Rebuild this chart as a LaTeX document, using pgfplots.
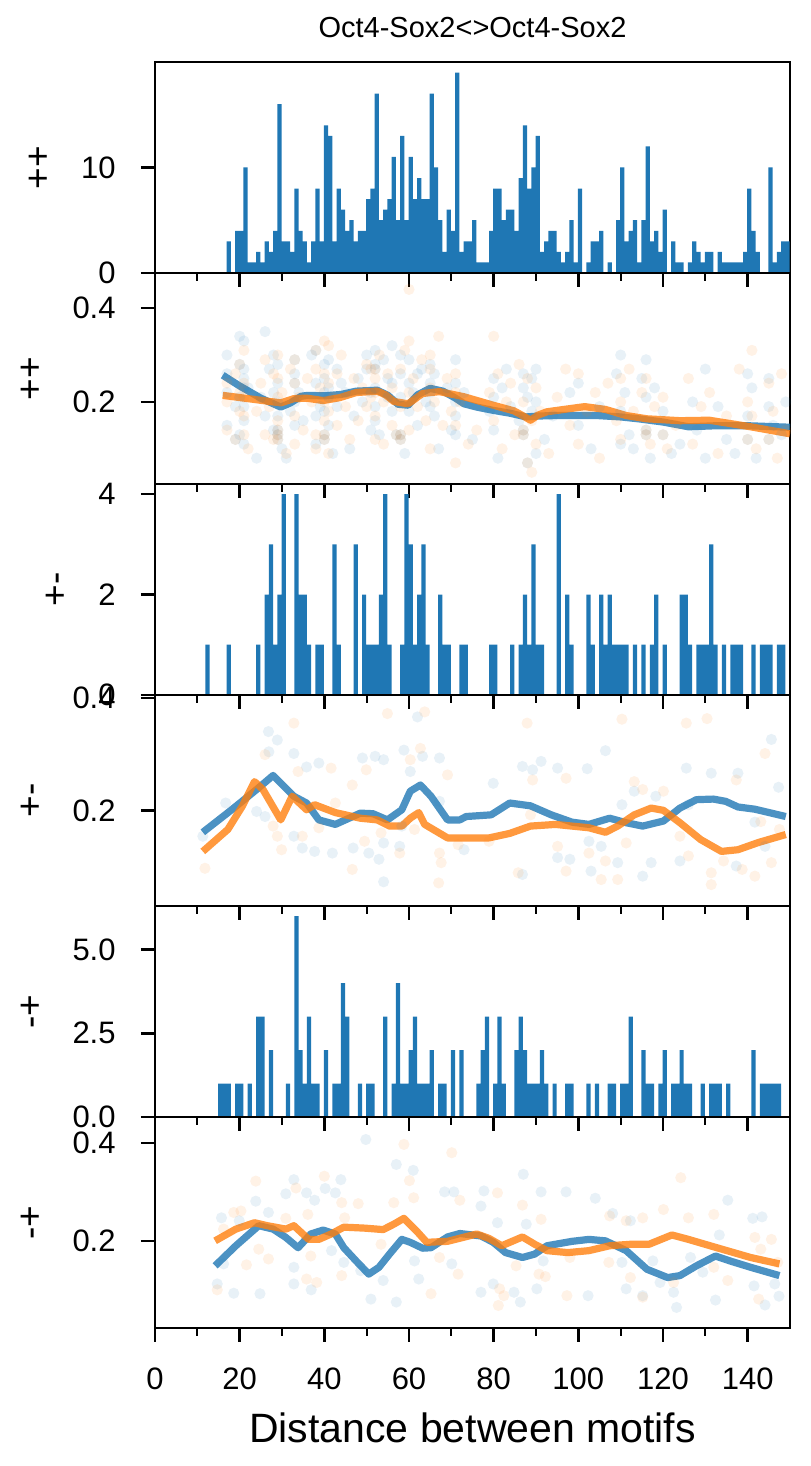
\documentclass[border=0pt]{standalone}
\usepackage{fontspec}
\setmainfont{Liberation Sans}
\usepackage{pgfplots}
\pgfplotsset{compat=1.18}
\definecolor{c1}{HTML}{1F77B4}
\definecolor{c2}{HTML}{FF7F0E}
\pgfplotsset{
  panel/.style={
    width=317.5pt, height=105.5pt, scale only axis, anchor=south west,
    xmin=0, xmax=150, xtick={0,20,...,140}, minor x tick num=1,
    tick align=outside, xtick pos=left, ytick pos=left,
    major tick length=7pt, minor tick length=4pt,
    axis line style={line width=1.3pt},
    every tick/.style={black, line width=1.3pt},
    every minor tick/.style={black, line width=0.9pt},
    /pgf/number format/assume math mode=true,
    tick label style={font=\fontsize{15.5}{18}\selectfont},
    xticklabels={},
    xticklabel style={anchor=base, inner sep=0pt, yshift=-24pt},
    yticklabel style={anchor=east, inner sep=0pt, xshift=-12.5pt},
    ylabel style={font=\fontsize{18.5}{22}\selectfont, at={(ticklabel cs:0.5,15pt)}, anchor=south, inner sep=0pt},
  },
  hist/.style={ybar, bar width=1, fill=c1, draw=none},
  dotsA/.style={only marks, mark=*, mark size=2.8pt, mark options={draw=c1, fill=c1, draw opacity=0, fill opacity=0.1}},
  dotsB/.style={only marks, mark=*, mark size=2.8pt, mark options={draw=c2, fill=c2, draw opacity=0, fill opacity=0.1}},
  lineA/.style={c1, line width=3.6pt, opacity=0.8, line join=round, no marks},
  lineB/.style={c2, line width=3.6pt, opacity=0.8, line join=round, no marks},
}
\begin{document}
\begin{tikzpicture}
\path[use as bounding box] (0,0) rectangle (405pt,733pt);
\node[anchor=base, font=\fontsize{14.5}{17}\selectfont] at (236.25pt,714pt) {Oct4-Sox2<>Oct4-Sox2};
\node[anchor=base, font=\fontsize{20.5}{24}\selectfont] at (236.25pt,12pt) {Distance between motifs};

% ---------- panel 1: ++ histogram
\begin{axis}[panel, at={(77.5pt,596.5pt)}, ymin=0, ymax=20, ytick={0,10}, yticklabels={0,10}, ylabel={++}]
\addplot[hist] table[x expr=\thisrowno{0}+0.4, y index=1] {
17 3
19 4
20 4
21 10
22 1
23 1
24 2
25 1
26 3
27 2
28 4
29 16
30 3
31 3
32 2
33 8
34 4
35 3
36 1
37 3
38 8
39 3
40 14
41 13
42 3
43 8
44 6
45 4
46 5
47 3
48 4
49 4
50 7
51 8
52 17
53 5
54 6
55 7
56 11
57 5
58 13
59 5
60 11
61 7
62 9
63 7
64 7
65 17
66 10
67 5
68 2
69 6
70 4
71 19
72 2
73 3
74 3
75 5
76 1
77 1
78 1
79 4
80 8
81 8
82 5
83 6
84 6
85 4
86 9
87 14
88 8
89 10
90 13
91 2
92 3
93 4
94 4
95 2
96 1
97 2
98 5
99 1
100 8
102 1
103 3
104 3
105 4
107 1
109 5
110 10
111 3
112 4
113 5
114 1
115 5
116 12
117 3
118 4
119 2
120 6
122 3
123 1
124 1
126 1
127 3
128 2
129 1
130 2
131 2
133 2
134 1
135 1
136 1
137 1
138 1
139 2
140 8
141 4
142 2
145 10
146 1
147 2
148 3
149 3
};
\end{axis}

% ---------- panel 2: ++ scatter
\begin{axis}[panel, at={(77.5pt,491pt)}, ymin=0.025, ymax=0.475, ytick={0.2,0.4}, yticklabels={0.2,0.4}, ylabel={++}]
\addplot[dotsA] coordinates {
(17,0.30)(17,0.26)(17,0.22)(17,0.15)(19,0.12)(19,0.19)(20,0.34)(20,0.28)(20,0.21)(20,0.13)
(21,0.33)(21,0.25)(21,0.19)(21,0.23)(21,0.16)(21,0.27)(21,0.11)(22,0.23)(24,0.08)(25,0.21)
(26,0.35)(26,0.17)(27,0.27)(28,0.30)(28,0.22)(28,0.14)(29,0.13)(29,0.14)(29,0.12)(29,0.24)
(29,0.28)(29,0.20)(29,0.17)(30,0.10)(31,0.08)(32,0.18)(33,0.29)(33,0.26)(33,0.24)(33,0.20)
(33,0.15)(34,0.22)(35,0.16)(37,0.30)(38,0.31)(38,0.24)(38,0.17)(38,0.11)(39,0.19)(40,0.13)
(40,0.12)(40,0.25)(40,0.22)(40,0.18)(40,0.28)(41,0.29)(41,0.21)(41,0.15)(41,0.23)(42,0.09)
(43,0.27)(43,0.19)(44,0.24)(45,0.22)(46,0.10)(47,0.17)(48,0.25)(49,0.20)(50,0.27)(50,0.30)
(51,0.22)(51,0.14)(52,0.27)(52,0.28)(52,0.19)(52,0.23)(52,0.16)(52,0.31)(53,0.13)(54,0.29)
(55,0.25)(55,0.21)(56,0.32)(56,0.18)(56,0.24)(57,0.13)(58,0.13)(58,0.12)(58,0.30)(58,0.21)
(58,0.26)(59,0.09)(60,0.29)(60,0.24)(60,0.18)(61,0.22)(62,0.26)(62,0.15)(63,0.27)(64,0.20)
(65,0.28)(65,0.24)(65,0.19)(65,0.22)(66,0.26)(66,0.17)(67,0.10)(69,0.23)(70,0.14)(71,0.29)
(71,0.24)(71,0.20)(71,0.17)(71,0.13)(73,0.22)(75,0.12)(79,0.18)(80,0.25)(80,0.21)(80,0.14)
(81,0.08)(82,0.23)(83,0.27)(84,0.19)(86,0.16)(87,0.14)(87,0.13)(87,0.23)(87,0.26)(88,0.21)
(88,0.07)(89,0.18)(89,0.25)(90,0.09)(90,0.20)(90,0.27)(92,0.12)(94,0.17)(98,0.22)(100,0.15)
(100,0.24)(103,0.10)(105,0.19)(109,0.26)(110,0.30)(110,0.18)(110,0.11)(111,0.22)(112,0.13)(113,0.10)
(115,0.25)(116,0.14)(116,0.13)(116,0.21)(116,0.29)(117,0.08)(118,0.23)(120,0.13)(120,0.18)(122,0.09)
(124,0.11)(127,0.20)(128,0.14)(130,0.27)(130,0.08)(133,0.19)(135,0.12)(137,0.09)(140,0.26)(140,0.17)
(140,0.12)(141,0.23)(142,0.08)(145,0.25)(145,0.12)(145,0.19)(146,0.15)(148,0.13)(149,0.20)
};
\addplot[dotsB] coordinates {
(17,0.24)(17,0.20)(17,0.14)(19,0.12)(19,0.26)(20,0.28)(20,0.22)(20,0.18)(21,0.31)(21,0.24)
(21,0.17)(21,0.13)(21,0.21)(22,0.10)(24,0.18)(25,0.24)(26,0.29)(26,0.13)(27,0.19)(28,0.26)
(28,0.12)(29,0.13)(29,0.14)(29,0.12)(29,0.21)(29,0.25)(29,0.30)(29,0.16)(30,0.22)(31,0.09)
(32,0.27)(33,0.29)(33,0.24)(33,0.17)(33,0.11)(34,0.21)(35,0.14)(36,0.25)(37,0.20)(38,0.31)
(38,0.27)(38,0.13)(38,0.10)(39,0.23)(40,0.13)(40,0.12)(40,0.33)(40,0.20)(40,0.16)(40,0.26)
(41,0.32)(41,0.24)(41,0.18)(41,0.09)(42,0.21)(43,0.26)(43,0.15)(44,0.30)(45,0.19)(46,0.12)
(47,0.25)(48,0.16)(49,0.23)(50,0.28)(50,0.19)(51,0.27)(51,0.21)(52,0.27)(52,0.25)(52,0.17)
(52,0.12)(52,0.22)(53,0.30)(54,0.20)(54,0.11)(55,0.26)(56,0.23)(56,0.15)(57,0.13)(58,0.13)
(58,0.12)(58,0.27)(58,0.19)(59,0.31)(60,0.33)(60,0.22)(60,0.14)(60,0.44)(61,0.25)(62,0.19)
(63,0.29)(64,0.16)(65,0.30)(65,0.27)(65,0.23)(65,0.10)(66,0.20)(67,0.34)(68,0.15)(69,0.25)
(70,0.18)(71,0.26)(71,0.22)(71,0.15)(71,0.07)(72,0.20)(74,0.11)(76,0.14)(79,0.22)(80,0.34)
(80,0.16)(81,0.26)(82,0.10)(83,0.20)(84,0.24)(85,0.13)(86,0.28)(87,0.14)(87,0.13)(87,0.20)
(88,0.25)(88,0.07)(89,0.16)(89,0.05)(90,0.23)(90,0.11)(91,0.18)(93,0.09)(95,0.21)(97,0.27)
(98,0.15)(100,0.26)(100,0.11)(102,0.18)(104,0.22)(105,0.08)(107,0.24)(109,0.16)(110,0.25)(110,0.20)
(110,0.12)(112,0.27)(113,0.18)(115,0.22)(116,0.14)(116,0.13)(116,0.25)(117,0.11)(118,0.19)(120,0.13)
(120,0.21)(121,0.10)(123,0.15)(126,0.25)(127,0.11)(129,0.19)(131,0.22)(133,0.09)(135,0.17)(138,0.27)
(140,0.20)(140,0.12)(141,0.31)(141,0.17)(142,0.10)(145,0.24)(145,0.12)(146,0.18)(147,0.08)(148,0.26)
(149,0.14)
};
\addplot[lineA] coordinates {
(16,0.257)(20,0.234)(25,0.208)(29.7,0.189)(32,0.198)(34.5,0.212)(36,0.214)(40,0.213)(44,0.216)
(47.5,0.223)(52.5,0.225)(55,0.214)(57.4,0.195)(59.8,0.193)(62,0.215)(65,0.229)(68,0.223)(71,0.208)
(73,0.196)(76,0.189)(79.9,0.182)(83.8,0.176)(87.7,0.168)(90.7,0.170)(95,0.171)(104.4,0.171)(110,0.168)
(114.2,0.164)(120.1,0.157)(126,0.147)(131.9,0.149)(140.7,0.149)(150,0.146)
};
\addplot[lineB] coordinates {
(16,0.214)(22,0.207)(29.7,0.198)(32.8,0.207)(35.8,0.208)(39.7,0.203)(43.6,0.209)(47.5,0.220)
(52.5,0.223)(54.5,0.215)(56.4,0.201)(59.8,0.196)(63.2,0.218)(67.2,0.222)(73,0.211)(79.9,0.193)
(84.8,0.181)(87,0.170)(88.7,0.161)(90.5,0.172)(92.6,0.179)(96.6,0.184)(101.5,0.190)(106.4,0.184)
(111.3,0.171)(116.2,0.164)(124,0.160)(130.9,0.161)(140.7,0.147)(150,0.132)
};
\end{axis}

% ---------- panel 3: +- histogram
\begin{axis}[panel, at={(77.5pt,385.5pt)}, ymin=0, ymax=4.2, ytick={0,2,4}, yticklabels={0,2,4}, ylabel={+-}]
\addplot[hist] table[x expr=\thisrowno{0}+0.4, y index=1] {
12 1
17 1
24 1
26 2
27 3
28 1
29 2
30 4
33 4
34 2
35 2
36 1
38 1
39 1
42 3
43 1
47 3
49 2
50 1
51 1
52 1
53 2
54 4
55 1
58 1
59 4
60 3
61 1
62 2
63 3
64 1
67 2
68 1
69 1
72 1
73 1
79 1
80 1
84 1
86 1
87 2
88 1
89 3
90 1
91 1
95 4
97 2
98 1
102 2
103 1
105 2
106 1
107 2
108 1
109 1
110 1
111 1
113 1
115 1
117 1
118 2
120 1
124 2
125 2
126 1
128 1
129 1
130 1
131 3
132 1
134 1
136 1
137 1
138 1
141 1
143 1
144 1
145 1
147 1
148 1
};
\end{axis}

% ---------- panel 4: +- scatter
\begin{axis}[panel, at={(77.5pt,280pt)}, ymin=0.03, ymax=0.405, ytick={0.2,0.4}, yticklabels={0.2,0.4}, ylabel={+-}]
\addplot[dotsA] coordinates {
(26.8,0.34)(28.9,0.325)(26.9,0.304)(32.8,0.301)(38.7,0.284)(35.8,0.277)(49,0.293)(52,0.296)(54,0.29)
(58.8,0.307)(62,0.366)(63.2,0.296)(67.2,0.293)(60.3,0.269)(79.9,0.248)(86.8,0.278)(89.2,0.272)(91.2,0.287)
(95.1,0.275)(102.1,0.274)(106.4,0.306)(110.3,0.21)(113.2,0.234)(118.3,0.225)(125.5,0.275)(131.4,0.266)
(137.7,0.266)(145.6,0.326)(147.3,0.241)(141.7,0.179)(16.7,0.213)(24,0.198)(26,0.189)(32.8,0.154)
(34.8,0.133)(37.7,0.127)(41.9,0.124)(46.8,0.133)(50.5,0.124)(52.9,0.113)(54,0.142)(57.8,0.136)
(58.3,0.172)(67.2,0.216)(73,0.13)(86.8,0.086)(95.1,0.116)(98,0.113)(102.5,0.145)(103,0.092)
(105.4,0.136)(109.3,0.107)(115.2,0.083)(117.2,0.107)(124,0.11)(126,0.21)(137.3,0.101)(144.1,0.136)
(54,0.073)(11.3,0.154)
};
\addplot[dotsB] coordinates {
(32.8,0.355)(54.9,0.372)(63.7,0.375)(87.9,0.355)(110.3,0.362)(125.5,0.355)(130.4,0.363)(144.1,0.301)
(26,0.299)(33.8,0.269)(41.6,0.275)(46.6,0.245)(49.9,0.272)(60.3,0.29)(62.7,0.31)(69.1,0.263)
(89.2,0.254)(97.1,0.257)(113.2,0.251)(115.2,0.237)(120.1,0.234)(137.3,0.254)(27.9,0.172)(28.9,0.154)
(29.9,0.13)(34.8,0.154)(38.7,0.169)(42.6,0.213)(46.6,0.095)(49.5,0.145)(53.4,0.16)(57.8,0.124)
(61.3,0.166)(67.2,0.124)(67.6,0.107)(67,0.071)(71.6,0.139)(78.9,0.145)(85.8,0.089)(88.7,0.192)
(95.1,0.136)(97.1,0.092)(102.5,0.124)(105.4,0.077)(106.4,0.11)(109.3,0.077)(111.3,0.142)(124,0.154)
(126,0.119)(131.4,0.089)(131.4,0.068)(134.3,0.11)(138.7,0.095)(141.7,0.083)(145.6,0.107)(147.5,0.166)
(11.8,0.097)(143.1,0.18)
};
\addplot[lineA] coordinates {
(11.3,0.161)(18.1,0.201)(24,0.237)(27.9,0.262)(32.8,0.225)(35.8,0.213)(38.7,0.183)(42.6,0.175)
(48.5,0.195)(51.5,0.194)(54.9,0.183)(58.3,0.201)(60.3,0.234)(62.7,0.245)(65.2,0.225)(69.1,0.183)
(72,0.183)(73.5,0.189)(79.4,0.192)(83.8,0.213)(88.7,0.208)(93.6,0.192)(98.5,0.179)(102.5,0.175)
(107.4,0.186)(111.3,0.178)(115.2,0.172)(120.1,0.181)(124,0.204)(127.9,0.219)(131.9,0.220)
(134.8,0.216)(137.7,0.206)(141.7,0.202)(149,0.189)
};
\addplot[lineB] coordinates {
(11.3,0.127)(17.2,0.166)(20.6,0.207)(23.5,0.251)(25.5,0.237)(29.7,0.183)(32.4,0.225)(35.8,0.201)
(37.7,0.21)(42.6,0.196)(48.5,0.186)(52.5,0.183)(55.4,0.172)(58.3,0.172)(60.3,0.186)(62.3,0.196)
(63.7,0.175)(69.1,0.151)(75,0.151)(78.9,0.151)(83.8,0.159)(88.7,0.172)(94.6,0.175)(98.5,0.172)
(102.5,0.169)(106.4,0.161)(109.3,0.172)(113.2,0.192)(117.2,0.204)(120.1,0.2)(124,0.178)
(128.9,0.148)(133.8,0.127)(137.7,0.13)(142.6,0.143)(149,0.157)
};
\end{axis}

% ---------- panel 5: -+ histogram
\begin{axis}[panel, at={(77.5pt,174.5pt)}, ymin=0, ymax=6.3, ytick={0,2.5,5}, yticklabels={0.0,2.5,5.0}, ylabel={-+}]
\addplot[hist] table[x expr=\thisrowno{0}+0.4, y index=1] {
15 1
16 1
17 1
19 1
20 1
22 1
24 3
25 3
27 2
31 1
33 6
34 2
35 1
36 3
37 1
38 1
40 2
42 1
43 1
44 4
45 3
48 1
50 1
51 1
54 3
56 1
57 4
58 1
59 1
60 2
61 3
62 1
63 1
64 1
65 2
67 1
68 1
70 2
72 2
76 1
77 2
78 3
80 1
81 3
82 1
85 2
86 3
87 2
88 1
89 1
90 1
91 2
92 1
94 1
97 1
98 1
102 1
104 1
107 1
108 1
110 1
111 1
112 3
115 2
116 1
117 1
119 1
120 2
122 1
123 1
124 2
125 1
126 1
129 1
131 1
132 1
133 1
135 1
141 2
143 1
144 1
145 1
146 1
147 1
};
\end{axis}

% ---------- panel 6: -+ scatter
\begin{axis}[panel, at={(77.5pt,69pt)}, ymin=0.022, ymax=0.453, ytick={0.2,0.4}, yticklabels={0.2,0.4}, ylabel={-+},
  xticklabels={0,20,40,60,80,100,120,140}]
\addplot[dotsA] coordinates {
(49.8,0.407)(57,0.356)(61,0.344)(87,0.336)(32.8,0.325)(43.9,0.325)(30.9,0.296)(35.8,0.298)(37.7,0.283)
(40.2,0.307)(42.6,0.298)(68.4,0.3)(70.6,0.3)(77.7,0.302)(91.2,0.3)(97.1,0.3)(104,0.287)(135.3,0.283)
(23.8,0.281)(15.7,0.247)(19.9,0.241)(26.8,0.258)(108.1,0.256)(112.3,0.241)(141.2,0.246)(143.4,0.249)
(77,0.271)(80.9,0.237)(87.7,0.234)(16.2,0.153)(14.7,0.112)(18.6,0.093)(24.8,0.092)(32.8,0.112)
(32.8,0.146)(36.9,0.1)(41.7,0.18)(44.6,0.156)(48.6,0.139)(51,0.081)(53.9,0.119)(57,0.075)(61.3,0.159)
(62.3,0.122)(70.1,0.153)(77,0.095)(79.9,0.112)(84.8,0.095)(86.3,0.075)(90.2,0.102)(91.7,0.159)
(102.3,0.088)(111.3,0.102)(115.2,0.088)(117.6,0.159)(119.3,0.115)(122.5,0.095)(123.2,0.064)
(126.5,0.166)(129.4,0.136)(132.4,0.079)(133.3,0.212)(141.5,0.108)(144.1,0.069)(146.4,0.112)
(147.4,0.087)(110.3,0.156)
};
\addplot[dotsB] coordinates {
(58.8,0.397)(70.1,0.38)(23.8,0.322)(40,0.332)(60.1,0.323)(124.2,0.329)(61.1,0.288)(80.9,0.298)(72,0.283)
(48,0.276)(44.1,0.278)(33.3,0.308)(56.4,0.278)(18.6,0.258)(20.3,0.261)(30.9,0.246)(36.1,0.254)
(44.8,0.247)(86.8,0.273)(91.2,0.244)(120.1,0.264)(126,0.247)(132,0.254)(107.4,0.251)(111.3,0.241)
(115.2,0.247)(16.2,0.224)(21.6,0.151)(24.5,0.183)(26.8,0.163)(36.8,0.169)(44.1,0.129)(38.2,0.115)
(35.8,0.122)(14.7,0.1)(53.4,0.193)(65.2,0.092)(67.2,0.166)(71.6,0.132)(81.4,0.102)(81.1,0.068)
(82.4,0.088)(85.3,0.149)(90.7,0.132)(92.2,0.127)(97.3,0.088)(98,0.166)(107.2,0.156)(112.3,0.125)
(115.2,0.085)(122.5,0.115)(135.3,0.119)(141.7,0.207)(145.6,0.203)(142.6,0.081)(147.1,0.156)
(132,0.146)(143.1,0.183)
};
\addplot[lineA] coordinates {
(14.2,0.149)(19.1,0.19)(24.5,0.231)(27.9,0.224)(30.9,0.207)(33.8,0.186)(36.8,0.214)(39.7,0.222)
(42.6,0.214)(44.6,0.186)(47.5,0.159)(50.5,0.132)(52.9,0.146)(55.4,0.173)(58.3,0.203)(60.3,0.197)
(63.2,0.185)(65.2,0.186)(69.1,0.208)(72,0.215)(77,0.21)(79.9,0.197)(82.8,0.176)(86.8,0.166)
(89.7,0.173)(92.6,0.19)(98.5,0.199)(102.5,0.203)(106.4,0.2)(111.3,0.18)(116.2,0.142)(121.1,0.125)
(124,0.129)(127.9,0.149)(132.4,0.169)(135.8,0.159)(140.7,0.146)(147.5,0.129)
};
\addplot[lineB] coordinates {
(14.2,0.2)(19.1,0.224)(23.5,0.237)(26.5,0.231)(30.9,0.224)(32.8,0.231)(36.3,0.203)(38.7,0.203)
(41.6,0.214)(44.6,0.228)(49.5,0.226)(53.9,0.223)(56.4,0.234)(58.8,0.246)(61.8,0.22)(64.2,0.197)
(69.1,0.199)(76,0.214)(78.9,0.205)(81.9,0.19)(86.8,0.208)(89.7,0.193)(92.6,0.18)(97.5,0.176)
(102.5,0.18)(107.4,0.19)(112.3,0.193)(116.7,0.193)(122.1,0.212)(126,0.203)(132.7,0.186)
(140.7,0.166)(147.5,0.153)
};
\end{axis}
\end{tikzpicture}
\end{document}
